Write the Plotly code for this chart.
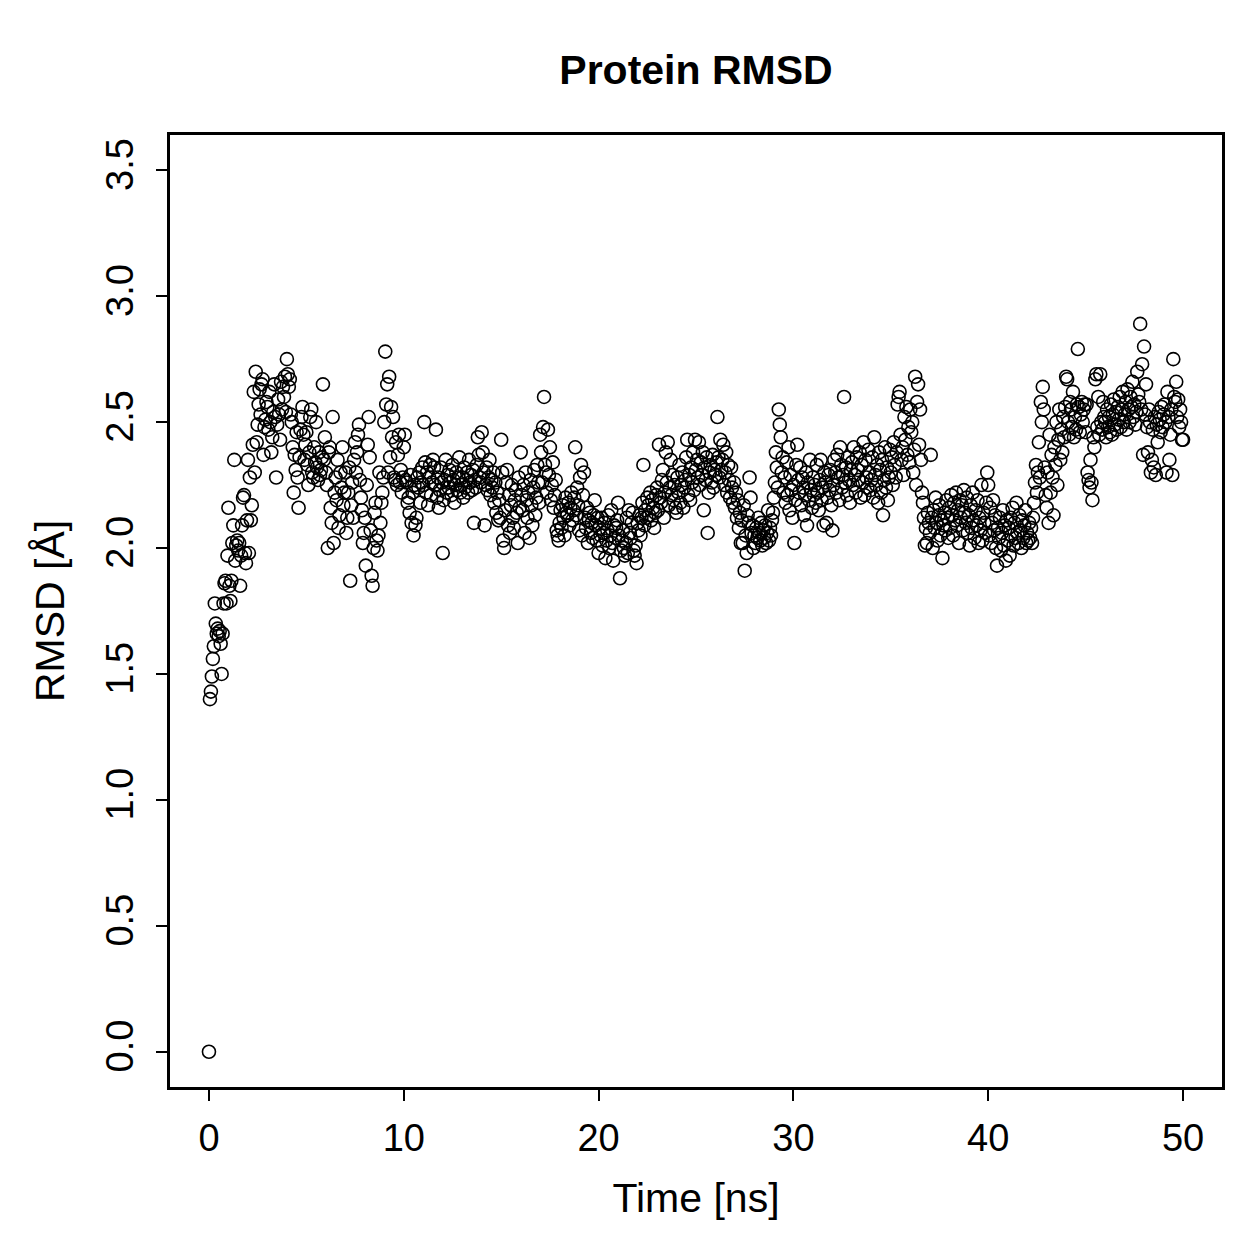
import numpy as np
import plotly.graph_objects as go

# RMSD values (Å), one row per ns, sampled every 0.05 ns
rmsd_rows = [
    [0.00, 1.40, 1.43, 1.49, 1.56, 1.61, 1.78, 1.70, 1.66, 1.68, 1.65, 1.67, 1.62, 1.50, 1.66, 1.78, 1.86, 1.87, 1.78, 1.97],
    [2.16, 1.85, 1.79, 1.87, 2.02, 2.09, 2.35, 1.95, 2.01, 2.03, 1.99, 2.02, 1.85, 1.97, 2.09, 2.20, 2.21, 1.98, 1.94, 2.11],
    [2.35, 1.98, 2.28, 2.11, 2.17, 2.41, 2.62, 2.30, 2.70, 2.42, 2.49, 2.57, 2.63, 2.53, 2.65, 2.67, 2.37, 2.48, 2.51, 2.58],
    [2.56, 2.47, 2.62, 2.50, 2.38, 2.44, 2.54, 2.65, 2.52, 2.28, 2.49, 2.59, 2.53, 2.43, 2.66, 2.55, 2.64, 2.60, 2.68, 2.54],
    [2.75, 2.69, 2.64, 2.67, 2.53, 2.50, 2.40, 2.22, 2.37, 2.31, 2.46, 2.28, 2.16, 2.36, 2.47, 2.52, 2.56, 2.45, 2.35, 2.41],
    [2.46, 2.33, 2.25, 2.38, 2.52, 2.55, 2.30, 2.28, 2.40, 2.34, 2.50, 2.32, 2.27, 2.38, 2.29, 2.31, 2.36, 2.65, 2.35, 2.44],
    [2.30, 2.25, 2.00, 2.38, 2.40, 2.16, 2.10, 2.52, 2.02, 2.22, 2.28, 2.19, 2.35, 2.08, 2.13, 2.30, 2.24, 2.40, 2.17, 2.22],
    [2.30, 2.06, 2.12, 2.22, 2.32, 1.87, 2.17, 2.26, 2.12, 2.35, 2.42, 2.30, 2.38, 2.45, 2.49, 2.27, 2.20, 2.15, 2.02, 2.06],
    [2.12, 1.93, 2.25, 2.41, 2.52, 2.36, 2.07, 1.89, 1.85, 2.00, 2.14, 2.18, 2.03, 1.99, 2.05, 2.30, 2.10, 2.18, 2.22, 2.28],
    [2.50, 2.78, 2.57, 2.65, 2.30, 2.68, 2.36, 2.56, 2.44, 2.52, 2.28, 2.27, 2.42, 2.25, 2.37, 2.45, 2.26, 2.31, 2.22, 2.28],
    [2.40, 2.45, 2.27, 2.26, 2.18, 2.20, 2.14, 2.29, 2.10, 2.22, 2.05, 2.25, 2.09, 2.12, 2.28, 2.24, 2.30, 2.18, 2.26, 2.32],
    [2.25, 2.50, 2.34, 2.22, 2.30, 2.17, 2.28, 2.33, 2.21, 2.26, 2.35, 2.32, 2.25, 2.47, 2.20, 2.28, 2.16, 2.23, 2.32, 2.26],
    [1.98, 2.19, 2.27, 2.35, 2.22, 2.29, 2.24, 2.31, 2.26, 2.21, 2.33, 2.27, 2.18, 2.25, 2.30, 2.23, 2.28, 2.36, 2.22, 2.25],
    [2.28, 2.20, 2.32, 2.24, 2.27, 2.30, 2.22, 2.35, 2.26, 2.29, 2.23, 2.31, 2.10, 2.27, 2.24, 2.33, 2.44, 2.37, 2.28, 2.26],
    [2.46, 2.38, 2.30, 2.09, 2.25, 2.32, 2.23, 2.28, 2.35, 2.21, 2.27, 2.24, 2.30, 2.18, 2.26, 2.14, 2.22, 2.11, 2.19, 2.12],
    [2.43, 2.30, 2.03, 2.00, 2.15, 2.26, 2.31, 2.09, 2.21, 2.06, 2.17, 2.25, 2.12, 2.08, 2.19, 2.23, 2.14, 2.02, 2.28, 2.16],
    [2.38, 2.21, 2.15, 2.25, 2.06, 2.30, 2.19, 2.12, 2.22, 2.04, 2.27, 2.17, 2.09, 2.24, 2.31, 2.13, 2.20, 2.33, 2.26, 2.18],
    [2.45, 2.38, 2.26, 2.48, 2.60, 2.33, 2.30, 2.22, 2.47, 2.29, 2.40, 2.19, 2.25, 2.34, 2.16, 2.21, 2.27, 2.07, 2.05, 2.03],
    [2.10, 2.15, 2.08, 2.17, 2.12, 2.05, 2.20, 2.14, 2.13, 2.18, 2.09, 2.16, 2.22, 2.11, 2.15, 2.20, 2.40, 2.13, 2.24, 2.17],
    [2.07, 2.28, 2.33, 2.05, 2.21, 2.30, 2.12, 2.08, 2.16, 2.02, 2.11, 2.14, 2.06, 2.10, 2.04, 2.13, 2.19, 2.09, 2.03, 2.12],
    [1.98, 2.08, 2.05, 2.12, 2.01, 2.06, 2.10, 1.96, 2.03, 2.07, 2.13, 2.00, 2.05, 2.15, 2.02, 1.95, 2.09, 2.04, 2.08, 2.11],
    [2.18, 2.05, 1.88, 1.99, 2.03, 2.07, 2.00, 1.97, 2.02, 2.12, 1.98, 2.15, 2.06, 2.04, 2.10, 2.14, 1.99, 1.97, 2.01, 1.94],
    [2.10, 2.07, 2.13, 2.05, 2.12, 2.18, 2.33, 2.09, 2.15, 2.12, 2.20, 2.17, 2.13, 2.22, 2.11, 2.19, 2.16, 2.08, 2.14, 2.21],
    [2.24, 2.15, 2.41, 2.20, 2.18, 2.27, 2.31, 2.12, 2.22, 2.38, 2.26, 2.42, 2.17, 2.24, 2.35, 2.21, 2.29, 2.19, 2.25, 2.16],
    [2.14, 2.28, 2.22, 2.33, 2.18, 2.25, 2.30, 2.16, 2.24, 2.27, 2.36, 2.43, 2.21, 2.29, 2.19, 2.32, 2.26, 2.38, 2.23, 2.43],
    [2.31, 2.35, 2.28, 2.42, 2.25, 2.34, 2.29, 2.38, 2.15, 2.32, 2.27, 2.36, 2.06, 2.22, 2.30, 2.33, 2.26, 2.37, 2.24, 2.31],
    [2.29, 2.34, 2.52, 2.36, 2.28, 2.43, 2.31, 2.35, 2.41, 2.25, 2.30, 2.38, 2.22, 2.33, 2.27, 2.20, 2.32, 2.24, 2.18, 2.26],
    [2.16, 2.22, 2.12, 2.19, 2.08, 2.14, 2.02, 2.11, 2.02, 2.17, 1.91, 2.05, 1.98, 2.13, 2.10, 2.28, 2.20, 2.06, 2.09, 2.00],
    [2.05, 2.02, 2.08, 2.04, 2.12, 2.06, 2.03, 2.10, 2.01, 2.07, 2.04, 2.09, 2.02, 2.06, 2.15, 2.03, 2.08, 2.05, 2.11, 2.14],
    [2.20, 2.26, 2.38, 2.32, 2.24, 2.55, 2.49, 2.44, 2.30, 2.36, 2.22, 2.28, 2.18, 2.34, 2.21, 2.40, 2.15, 2.29, 2.23, 2.12],
    [2.25, 2.02, 2.19, 2.33, 2.41, 2.27, 2.22, 2.32, 2.17, 2.28, 2.24, 2.13, 2.21, 2.30, 2.09, 2.26, 2.19, 2.35, 2.23, 2.16],
    [2.28, 2.21, 2.25, 2.18, 2.33, 2.22, 2.15, 2.27, 2.35, 2.19, 2.24, 2.09, 2.30, 2.26, 2.10, 2.20, 2.29, 2.23, 2.31, 2.17],
    [2.07, 2.25, 2.35, 2.30, 2.22, 2.37, 2.28, 2.19, 2.40, 2.33, 2.24, 2.29, 2.60, 2.26, 2.32, 2.21, 2.36, 2.27, 2.18, 2.31],
    [2.34, 2.25, 2.40, 2.29, 2.22, 2.36, 2.31, 2.27, 2.38, 2.20, 2.33, 2.26, 2.42, 2.21, 2.35, 2.28, 2.24, 2.39, 2.30, 2.23],
    [2.27, 2.36, 2.20, 2.44, 2.29, 2.25, 2.33, 2.18, 2.38, 2.31, 2.22, 2.35, 2.13, 2.27, 2.40, 2.24, 2.32, 2.19, 2.28, 2.39],
    [2.30, 2.36, 2.25, 2.42, 2.33, 2.28, 2.38, 2.57, 2.60, 2.62, 2.45, 2.35, 2.40, 2.29, 2.52, 2.43, 2.56, 2.37, 2.48, 2.34],
    [2.55, 2.46, 2.50, 2.30, 2.39, 2.68, 2.25, 2.58, 2.65, 2.41, 2.55, 2.35, 2.22, 2.18, 2.12, 2.01, 2.08, 2.02, 2.14, 2.10],
    [2.06, 2.37, 2.12, 2.00, 2.15, 2.08, 2.20, 2.10, 2.03, 2.13, 2.17, 2.05, 2.11, 1.96, 2.09, 2.14, 2.07, 2.19, 2.12, 2.04],
    [2.16, 2.08, 2.21, 2.13, 2.05, 2.18, 2.11, 2.22, 2.09, 2.15, 2.02, 2.19, 2.12, 2.17, 2.07, 2.23, 2.14, 2.10, 2.20, 2.06],
    [2.13, 2.01, 2.17, 2.08, 2.22, 2.11, 2.04, 2.15, 2.09, 2.19, 2.02, 2.12, 2.07, 2.25, 2.03, 2.14, 2.10, 2.06, 2.18, 2.30],
    [2.25, 2.05, 2.16, 2.02, 2.10, 2.19, 2.07, 2.13, 2.00, 1.93, 2.08, 2.04, 2.12, 1.99, 2.06, 2.15, 2.01, 2.09, 1.95, 2.11],
    [2.03, 2.08, 1.97, 2.12, 2.05, 2.16, 2.01, 2.10, 2.04, 2.18, 2.06, 2.02, 2.13, 2.07, 2.00, 2.11, 2.04, 2.09, 2.15, 2.02],
    [2.06, 2.03, 2.10, 2.04, 2.08, 2.02, 2.12, 2.18, 2.26, 2.33, 2.22, 2.30, 2.42, 2.28, 2.58, 2.50, 2.64, 2.55, 2.32, 2.21],
    [2.16, 2.30, 2.10, 2.45, 2.22, 2.37, 2.28, 2.13, 2.40, 2.33, 2.50, 2.25, 2.43, 2.55, 2.35, 2.47, 2.38, 2.52, 2.44, 2.56],
    [2.68, 2.67, 2.50, 2.45, 2.58, 2.55, 2.48, 2.62, 2.44, 2.52, 2.47, 2.57, 2.79, 2.56, 2.46, 2.53, 2.58, 2.50, 2.55, 2.57],
    [2.46, 2.57, 2.30, 2.27, 2.24, 2.35, 2.26, 2.19, 2.44, 2.40, 2.67, 2.69, 2.48, 2.60, 2.45, 2.69, 2.50, 2.47, 2.58, 2.52],
    [2.50, 2.44, 2.55, 2.48, 2.52, 2.46, 2.57, 2.45, 2.53, 2.59, 2.49, 2.54, 2.47, 2.56, 2.51, 2.60, 2.48, 2.55, 2.62, 2.50],
    [2.53, 2.58, 2.47, 2.63, 2.55, 2.50, 2.60, 2.56, 2.66, 2.52, 2.57, 2.49, 2.54, 2.70, 2.61, 2.58, 2.89, 2.55, 2.73, 2.37],
    [2.80, 2.53, 2.65, 2.48, 2.38, 2.55, 2.50, 2.30, 2.35, 2.47, 2.32, 2.52, 2.29, 2.49, 2.42, 2.54, 2.51, 2.46, 2.56, 2.48],
    [2.53, 2.57, 2.50, 2.30, 2.62, 2.52, 2.35, 2.45, 2.55, 2.29, 2.75, 2.60, 2.58, 2.66, 2.52, 2.59, 2.48, 2.55, 2.50, 2.43],
    [2.43],
]
rmsd = [v for row in rmsd_rows for v in row]
time_ns = [round(i * 0.05, 2) for i in range(len(rmsd))]

x_ticks = [0, 10, 20, 30, 40, 50]
y_ticks = [0.0, 0.5, 1.0, 1.5, 2.0, 2.5, 3.0, 3.5]

FONT = "Liberation Sans, Arial, Helvetica, sans-serif"

fig = go.Figure(
    go.Scatter(
        x=time_ns, y=rmsd, mode="markers",
        marker=dict(symbol="circle-open", size=13, color="black",
                    line=dict(color="black", width=1.6)),
        showlegend=False,
    )
)

fig.update_layout(
    width=1259, height=1259,
    margin=dict(l=170, r=37, t=135, b=172),
    paper_bgcolor="white", plot_bgcolor="white",
    font=dict(family=FONT, size=38, color="black"),
    title=dict(text="<b>Protein RMSD</b>", x=(170 + 1222) / 2 / 1259, xanchor="center",
               y=1 - 70 / 1259, yanchor="middle", font=dict(size=41, family=FONT)),
)
fig.update_xaxes(
    range=[-2, 52], tickvals=x_ticks, ticktext=[str(v) for v in x_ticks],
    showgrid=False, zeroline=False, showline=True, mirror=True,
    linecolor="black", linewidth=2.5, ticks="outside", ticklen=11, tickwidth=2,
    tickcolor="black", ticklabelstandoff=5, tickfont=dict(size=38),
    title=dict(text="Time [ns]", standoff=25, font=dict(size=41)),
)
fig.update_yaxes(
    range=[-0.14, 3.64], tickvals=y_ticks, ticktext=[f"{v:.1f}" for v in y_ticks],
    tickangle=-90,
    showgrid=False, zeroline=False, showline=True, mirror=True,
    linecolor="black", linewidth=2.5, ticks="outside", ticklen=11, tickwidth=2,
    tickcolor="black", ticklabelstandoff=8, tickfont=dict(size=38),
    title=dict(text="RMSD [Å]", standoff=22, font=dict(size=41)),
)

fig.write_html("out.html")
